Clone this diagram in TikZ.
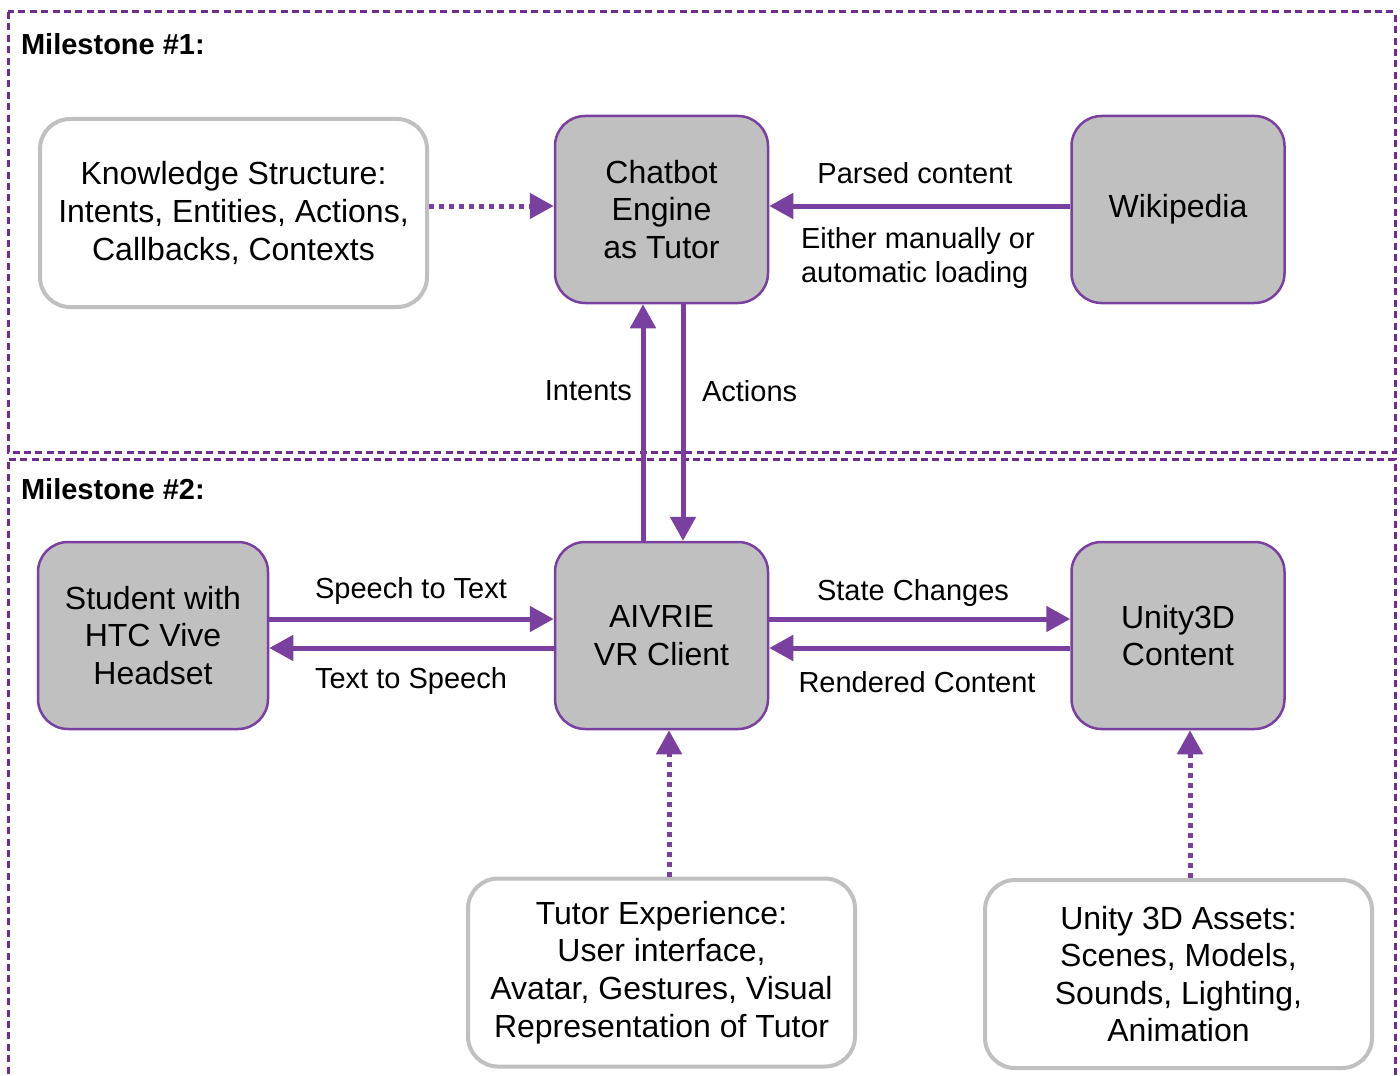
\documentclass[tikz,border=0pt]{standalone}
\usepackage{fontspec}
\setmainfont{Liberation Sans}
\usetikzlibrary{arrows.meta,positioning}

\definecolor{milepurple}{RGB}{112,44,143}
\definecolor{linkpurple}{RGB}{122,64,160}
\definecolor{boxgray}{RGB}{192,192,192}

\tikzset{
	component/.style={draw=linkpurple, line width=1.25pt, fill=boxgray, rounded corners=15pt,
		align=center, font=\fontsize{16}{18.8}\selectfont, minimum width=106.5pt, minimum height=93.5pt},
	resource/.style={draw=boxgray, line width=2pt, fill=white, rounded corners=15pt,
		align=center, font=\fontsize{16}{18.8}\selectfont, minimum width=193.5pt, minimum height=94pt},
	flow/.style={draw=linkpurple, line width=2.5pt, -{Triangle[length=12pt,width=12.5pt]}},
	feed/.style={flow, dash pattern=on 2.5pt off 2.5pt},
	milestone/.style={draw=milepurple, line width=1.5pt, dash pattern=on 3.5pt off 2.2pt},
	tag/.style={font=\fontsize{14.5}{17}\selectfont},
	headline/.style={font=\fontsize{14.5}{17}\selectfont\bfseries, anchor=west},
}

\begin{document}
\begin{tikzpicture}[x=0.5pt,y=-0.5pt]
	\useasboundingbox (0,0) rectangle (1400,1075);

	% milestone frames
	\draw[milestone] (8,12) rectangle (1395,452);
	\draw[milestone] (8,1085) -- (8,459) -- (1395,459) -- (1395,1085);
	\node[headline] (m1) at (14,44) {Milestone \#1:};
	\node[headline] (m2) at (14,489) {Milestone \#2:};

	% milestone 1
	\node[resource] (know) at (233.5,213) {Knowledge Structure:\\Intents, Entities, Actions,\\Callbacks, Contexts};
	\node[component] (chat) at (661.5,209.5) {Chatbot\\Engine\\as Tutor};
	\node[component] (wiki) at (1178,209.5) {Wikipedia};

	% milestone 2
	\node[component, minimum width=115pt] (student) at (153,635.5) {Student with\\HTC Vive\\Headset};
	\node[component] (client) at (661.5,635.5) {AIVRIE\\VR Client};
	\node[component] (unity) at (1178,635.5) {Unity3D\\Content};
	\node[resource] (tutor) at (661.5,972.5) {Tutor Experience:\\User interface,\\Avatar, Gestures, Visual\\Representation of Tutor};
	\node[resource] (assets) at (1178.5,974) {Unity 3D Assets:\\Scenes, Models,\\Sounds, Lighting,\\Animation};

	% connectors
	\coordinate (chatin) at ([yshift=1.75pt]chat.west);
	\draw[feed] (know.east |- chatin) -- (chatin);
	\draw[flow] ([yshift=1.75pt]wiki.west) -- ([yshift=1.75pt]chat.east);
	\node[tag] (parsed) at (915,173) {Parsed content};
	\node[tag, align=left, anchor=west] (loading) at (794,258) {Either manually or\\automatic loading};

	\draw[flow] ([xshift=-9.25pt]client.north) -- ([xshift=-9.25pt]chat.south);
	\draw[flow] ([xshift=10.75pt]chat.south) -- ([xshift=10.75pt]client.north);
	\node[tag, anchor=east] (intents) at (639,391) {Intents};
	\node[tag, anchor=west] (actions) at (695,391) {Actions};

	\draw[flow] ([yshift=8.25pt]student.east) -- ([yshift=8.25pt]client.west);
	\draw[flow] ([yshift=-6.25pt]client.west) -- ([yshift=-6.25pt]student.east);
	\node[tag] (stt) at (411,591) {Speech to Text};
	\node[tag] (tts) at (411,681) {Text to Speech};

	\draw[flow] ([yshift=8.25pt]client.east) -- ([yshift=8.25pt]unity.west);
	\draw[flow] ([yshift=-6.25pt]unity.west) -- ([yshift=-6.25pt]client.east);
	\node[tag] (state) at (913,593) {State Changes};
	\node[tag] (rendered) at (917,682) {Rendered Content};

	\draw[feed] ([xshift=3.75pt]tutor.north) -- ([xshift=3.75pt]tutor.north |- client.south);
	\draw[feed] ([xshift=5.75pt]assets.north) -- ([xshift=5.75pt]assets.north |- unity.south);
\end{tikzpicture}
\end{document}
